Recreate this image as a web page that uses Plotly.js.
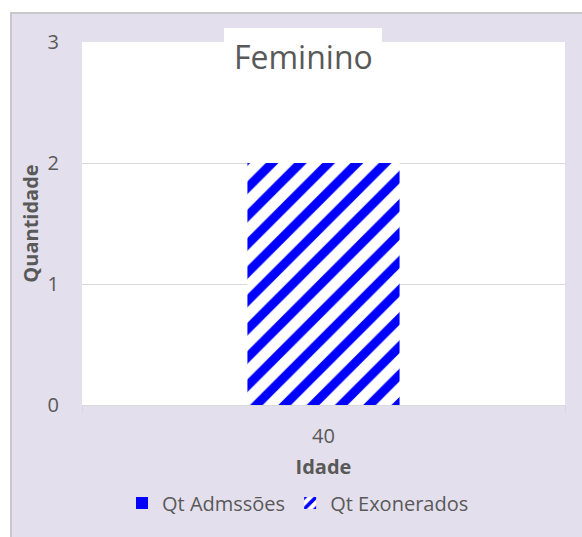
<!DOCTYPE html>
<html>
<head>
<meta charset="utf-8">
<script src="https://cdn.plot.ly/plotly-3.0.1.min.js"></script>
<style>html,body{margin:0;padding:0;background:#fff;}#chart{width:582px;height:537px;}</style>
</head>
<body>
<div id="chart"></div>
<script>
const categories = ["40"];
const admissoes = [0];
const exonerados = [2];
const seriesNames = ["Qt Admssões", "Qt Exonerados"];
const chartTitle = "Feminino";
const xTitle = "Idade";
const yTitle = "Quantidade";

const W = 582, H = 537;
const L = 82, R = 565, T = 42, B = 405;
const pw = R - L, ph = B - T;
const px = v => (v - L) / pw;
const py = v => (B - v) / ph;

const grey = "#595959";
const font = "Open Sans, sans-serif";

const traces = [
  {
    type: "bar", x: categories, y: admissoes, name: seriesNames[0],
    marker: { color: "#0000FF" }, width: 0.315, hoverinfo: "skip"
  },
  {
    type: "bar", x: categories, y: exonerados, name: seriesNames[1],
    width: 0.315,
    marker: {
      color: "#FFFFFF",
      pattern: { shape: "/", fgcolor: "#0000FF", bgcolor: "#FFFFFF", size: 20, solidity: 0.45, fillmode: "replace" },
      line: { width: 0 }
    },
    hoverinfo: "skip"
  }
];

const layout = {
  width: W, height: H,
  margin: { l: L, r: W - R, t: T, b: H - B, autoexpand: false },
  paper_bgcolor: "#E4DFEC",
  plot_bgcolor: "#FFFFFF",
  barmode: "overlay",
  showlegend: true,
  font: { family: font, color: grey, size: 20 },
  xaxis: {
    type: "category",
    showgrid: false,
    showline: true, linecolor: "#D9D9D9", linewidth: 1,
    ticks: "outside", tickson: "boundaries", ticklen: 7, tickcolor: "#D9D9D9",
    ticklabelstandoff: 13,
    tickfont: { family: font, size: 20, color: grey },
    title: { text: xTitle, font: { family: font, size: 20, color: grey, weight: "bold" }, standoff: 11 },
    automargin: false, fixedrange: true
  },
  yaxis: {
    range: [0, 3], dtick: 1, tick0: 0,
    showgrid: true, gridcolor: "#D9D9D9", gridwidth: 1,
    zeroline: false, showline: false,
    ticks: "", ticklabelstandoff: 22,
    tickfont: { family: font, size: 20, color: grey },
    title: { text: yTitle, font: { family: font, size: 20, color: grey, weight: "bold" }, standoff: 3 },
    automargin: false, fixedrange: true
  },
  legend: {
    orientation: "h",
    x: px(122), xanchor: "left",
    y: py(503), yanchor: "middle",
    itemwidth: 30,
    font: { family: font, size: 20, color: grey },
    bgcolor: "rgba(0,0,0,0)",
    itemclick: false, itemdoubleclick: false
  },
  shapes: [
    { type: "rect", xref: "paper", yref: "paper", x0: px(-10), x1: px(10), y0: py(H + 10), y1: py(-10), fillcolor: "#FFFFFF", line: { width: 0 }, layer: "above" },
    { type: "rect", xref: "paper", yref: "paper", x0: px(-10), x1: px(W + 10), y0: py(12), y1: py(-10), fillcolor: "#FFFFFF", line: { width: 0 }, layer: "above" },
    { type: "line", xref: "paper", yref: "paper", x0: px(11), x1: px(11), y0: py(12.5), y1: py(H + 10), line: { color: "#C8C8C8", width: 2 }, layer: "above" },
    { type: "line", xref: "paper", yref: "paper", x0: px(10), x1: px(W + 10), y0: py(13), y1: py(13), line: { color: "#C8C8C8", width: 2 }, layer: "above" },
    { type: "rect", xref: "paper", yref: "paper", x0: px(224), x1: px(382), y0: py(44), y1: py(28), fillcolor: "#FFFFFF", line: { width: 0 }, layer: "above" }
  ],
  annotations: [
    { text: chartTitle, xref: "paper", yref: "paper", x: px(303), y: py(57), xanchor: "center", yanchor: "middle",
      showarrow: false, font: { family: font, size: 32, color: grey } }
  ]
};

Plotly.newPlot("chart", traces, layout, { displayModeBar: false, staticPlot: true });
</script>
</body>
</html>
